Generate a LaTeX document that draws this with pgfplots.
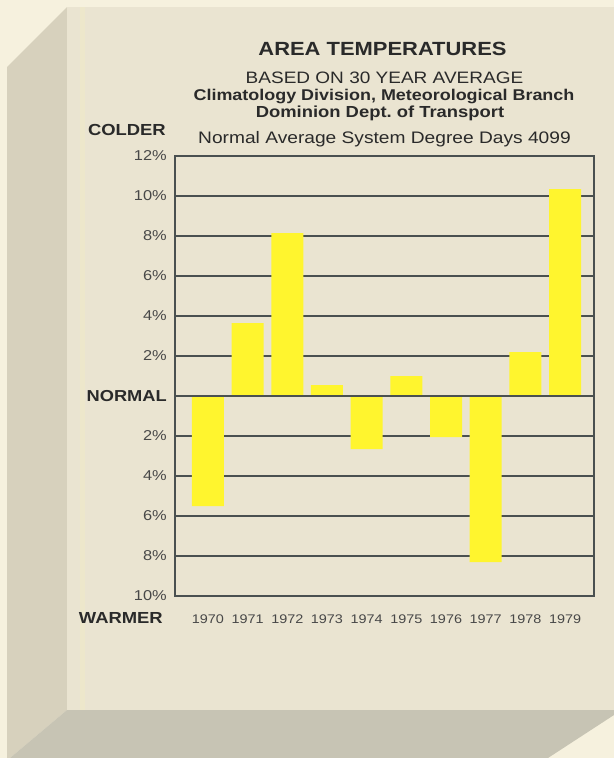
\documentclass[border=0pt]{standalone}
\usepackage{fontspec}
\setmainfont{Liberation Sans}[FakeStretch=1.15]
\usepackage{pgfplots}
\pgfplotsset{compat=1.18}
\definecolor{outside}{HTML}{F6F1DE}
\definecolor{frontface}{HTML}{EAE4D1}
\definecolor{leftface}{HTML}{D7D1BD}
\definecolor{bottomface}{HTML}{C7C4B4}
\definecolor{stripe}{HTML}{EDE7CB}
\definecolor{baryellow}{HTML}{FFF52E}
\definecolor{gridc}{HTML}{4A5050}
\definecolor{txt}{HTML}{2A2A2A}
\definecolor{labc}{HTML}{484848}
\frenchspacing
\begin{document}
\frenchspacing
\begin{tikzpicture}
\useasboundingbox (0,0) rectangle (460.5pt,-568.5pt);
\begin{scope}[x=0.75pt,y=-0.75pt]
  \fill[outside] (0,0) rectangle (614,758);
  \fill[leftface] (7,67) -- (67,7) -- (67,710) -- (10,758) -- (7,758) -- cycle;
  \fill[frontface] (67,7) rectangle (614,710);
  \fill[stripe] (80,7) rectangle (85,710);
  \fill[bottomface] (67,710) -- (614,710) -- (614,715) -- (548,758) -- (10,758) -- cycle;
  \begin{scope}[every node/.style={inner sep=0pt, text=txt}]
  \node[anchor=base, font=\bfseries\fontsize{14.3}{16}\selectfont] at (382.5,55) {AREA TEMPERATURES};
  \node[anchor=base, font=\fontsize{12.4}{14}\selectfont] at (384.5,83) {BASED ON 30 YEAR AVERAGE};
  \node[anchor=base, font=\bfseries\fontsize{11.7}{13}\selectfont] at (384,100) {Climatology Division, Meteorological Branch};
  \node[anchor=base, font=\bfseries\fontsize{12}{13}\selectfont] at (380,117) {Dominion Dept.\ of Transport};
  \node[anchor=base east, font=\bfseries\fontsize{12}{13}\selectfont] at (166,135) {COLDER};
  \node[anchor=base, font=\fontsize{12.5}{14}\selectfont] at (384.5,143) {Normal Average System Degree Days 4099};
  \node[anchor=base east, font=\bfseries\fontsize{12}{13}\selectfont] at (163,623) {WARMER};
  \end{scope}
\end{scope}
\begin{axis}[
  scale only axis,
  width=314.25pt, height=330pt,
  at={(131.25pt,-447pt)}, anchor=south west,
  xmin=-0.83, xmax=9.73, ymin=-10, ymax=12,
  xtick={0,1,2,3,4,5,6,7,8,9},
  xticklabels={1970,1971,1972,1973,1974,1975,1976,1977,1978,1979},
  ytick={-10,-8,-6,-4,-2,0,2,4,6,8,10,12},
  yticklabels={10\%,8\%,6\%,4\%,2\%,{\textcolor{txt}{\bfseries\fontsize{11.9}{12}\selectfont NORMAL}},2\%,4\%,6\%,8\%,10\%,12\%},
  major tick length=0pt,
  ymajorgrids,
  grid style={gridc, line width=0.9pt},
  axis line style={gridc, line width=0.8pt},
  xticklabel style={anchor=base, inner sep=0pt, yshift=-20.25pt, font=\fontsize{9.4}{10}\selectfont, text=labc},
  yticklabel style={anchor=east, inner sep=0pt, xshift=-6pt, font=\fontsize{10.7}{12}\selectfont, text=labc},
]
\addplot[ybar, bar width=24pt, fill=baryellow, draw=none]
  coordinates {(0,-5.5) (1,3.65) (2,8.15) (3,0.55) (4,-2.65) (5,1.0) (6,-2.05) (7,-8.3) (8,2.2) (9,10.35)};
\draw[gridc, line width=0.9pt] (axis cs:-0.83,0) -- (axis cs:9.73,0);
\end{axis}
\end{tikzpicture}
\end{document}
